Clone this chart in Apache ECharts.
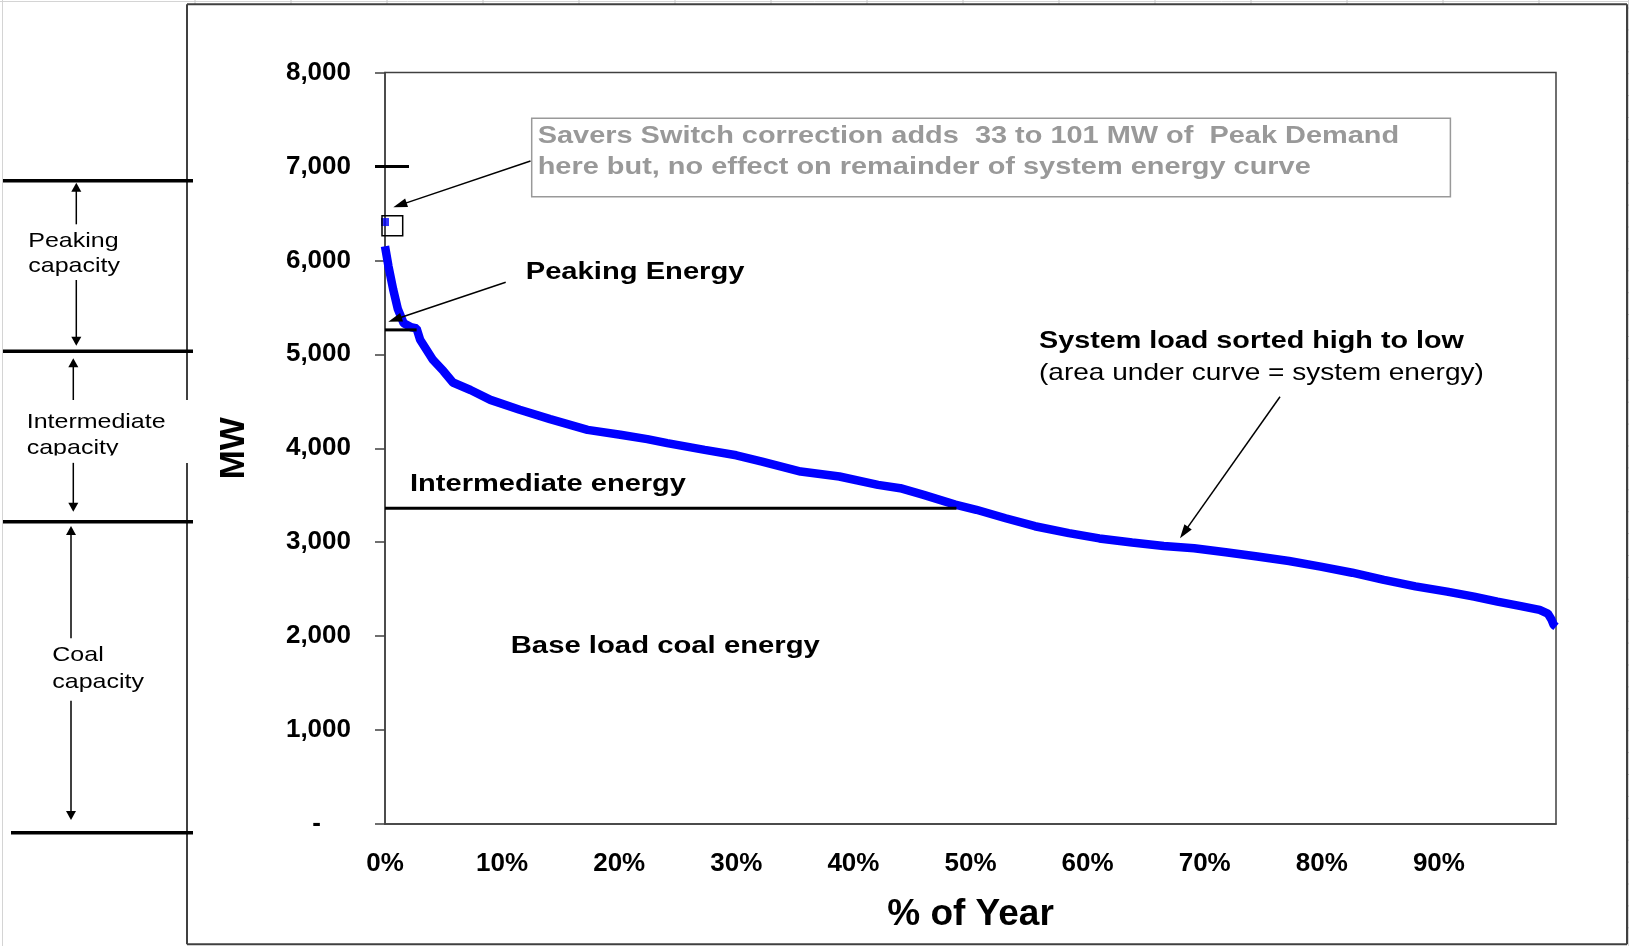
<!DOCTYPE html>
<html><head><meta charset="utf-8">
<script src="https://cdn.jsdelivr.net/npm/echarts@6/dist/echarts.min.js"></script>
<style>html,body{margin:0;padding:0;background:#fff}#c{width:1629px;height:946px}</style>
</head><body><div id="c"></div>
<script>
// ---- data ----
const pctOfYear = [0,0.3,0.7,1.1,1.6,2.2,2.7,3.0,4.1,5.0,5.8,7.3,9.0,11.5,14.1,17.3,20.1,22.4,24.1,27.3,30.0,32.2,35.5,38.8,42.1,44.0,46.0,48.7,50.5,53.0,55.5,58.4,61.0,63.8,66.5,69.1,71.8,74.5,77.2,79.9,82.6,85.3,88.0,90.7,93.0,95.0,97.0,98.6,99.3,99.6,99.8,100];
const loadMW = [6150,5935,5690,5480,5330,5290,5275,5155,4940,4820,4700,4620,4515,4410,4310,4196,4143,4097,4054,3983,3925,3858,3752,3699,3610,3575,3504,3400,3345,3255,3170,3096,3040,2996,2960,2936,2893,2847,2800,2740,2675,2598,2530,2474,2420,2368,2320,2279,2240,2180,2120,2100];
const correctedPeakPct = [0];
const correctedPeakMW = [6408];
const xTickLabels = ['0%','10%','20%','30%','40%','50%','60%','70%','80%','90%',''];
const peakTickMW = 7000;
const peakingLineMW = 5260;
const peakingLineEndPct = 2.7;
const intermediateLineMW = 3360;
const intermediateLineEndPct = 48.8;

const BOLD = 'bold 24px "Liberation Sans", Arial, sans-serif';
const REG = '24px "Liberation Sans", Arial, sans-serif';
const LEFT = '21px "Liberation Sans", Arial, sans-serif';

const chart = echarts.init(document.getElementById('c'), null, {renderer: 'canvas'});

chart.setOption({
  animation: false,
  backgroundColor: '#ffffff',
  grid: {left: 385, right: 73, top: 72.5, bottom: 122, show: true, borderColor: '#404040', borderWidth: 1.5, containLabel: false, outerBoundsMode: 'none'},
  xAxis: {
    type: 'value', min: 0, max: 100, interval: 10,
    name: '% of Year', nameLocation: 'middle', nameGap: 72,
    nameTextStyle: {fontFamily: '"Liberation Sans", Arial', fontWeight: 'bold', fontSize: 37, color: '#000'},
    axisLine: {show: true, lineStyle: {color: '#404040', width: 1.5}},
    axisTick: {show: false},
    splitLine: {show: false},
    axisLabel: {margin: 27, fontFamily: '"Liberation Sans", Arial', fontWeight: 'bold', fontSize: 26, color: '#000',
      formatter: v => xTickLabels[Math.round(v / 10)] || ''}
  },
  yAxis: {
    type: 'value', min: 0, max: 8000, interval: 1000,
    name: 'MW', nameLocation: 'middle', nameGap: 133, nameRotate: 90,
    nameTextStyle: {fontFamily: '"Liberation Sans", Arial', fontWeight: 'bold', fontSize: 35, color: '#000'},
    axisLine: {show: true, lineStyle: {color: '#404040', width: 1.5}},
    axisTick: {show: true, inside: false, length: 10, lineStyle: {color: '#404040', width: 1.5}},
    splitLine: {show: false},
    axisLabel: {margin: 34, fontFamily: '"Liberation Sans", Arial', fontWeight: 'bold', fontSize: 26, color: '#000',
      formatter: v => v === 0 ? '{z|-}' : v.toLocaleString('en-US'),
      rich: {z: {fontFamily: '"Liberation Sans", Arial', fontWeight: 'bold', fontSize: 26, color: '#000', padding: [0, 30, 0, 0]}}}
  },
  series: [
    {type: 'line', data: pctOfYear.map((p, i) => [p, loadMW[i]]), symbol: 'none', clip: false,
     lineStyle: {color: '#0000ff', width: 8.5}, z: 3},
    {type: 'scatter', data: correctedPeakPct.map((p, i) => [p, correctedPeakMW[i]]), symbol: 'rect', symbolSize: 8,
     itemStyle: {color: '#0000ff'}, z: 4}
  ]
});

function px(x, y) { return chart.convertToPixel({gridIndex: 0}, [x, y]); }
const g = [];
function line(x1, y1, x2, y2, w, c) { g.push({type: 'line', shape: {x1, y1, x2, y2}, style: {stroke: c || '#000', lineWidth: w}, z: 10}); }
function arrow(x1, y1, x2, y2, w, hl, hw) {
  const dx = x2 - x1, dy = y2 - y1, L = Math.hypot(dx, dy), ux = dx / L, uy = dy / L;
  const bx = x2 - ux * hl, by = y2 - uy * hl;
  line(x1, y1, bx + ux * 1, by + uy * 1, w);
  g.push({type: 'polygon', shape: {points: [[x2, y2], [bx - uy * hw / 2, by + ux * hw / 2], [bx + uy * hw / 2, by - ux * hw / 2]]}, style: {fill: '#000'}, z: 10});
}
function text(t, x, y, font, sx, color) {
  g.push({type: 'text', x: x, y: y + 1.5, scaleX: sx, z: 11, style: {text: t, x: 0, y: 0, font: font, fill: color || '#000', textAlign: 'left', textVerticalAlign: 'middle'}});
}

// spreadsheet background grid remnants
line(0, 1.5, 1629, 1.5, 1, '#d4d4d4');
line(2.5, 0, 2.5, 946, 1, '#d4d4d4');
line(1628.5, 0, 1628.5, 946, 1, '#d4d4d4');
for (let x = 195; x < 1629; x += 96) line(x, 0, x, 4.5, 1, '#c8c8c8');
for (let y = 8; y < 946; y += 21.9) line(1627, y, 1629, y, 1, '#b0b0b0');

// outer frame (with gap behind "Intermediate capacity")
line(187, 4.3, 1627, 4.3, 2, '#404040');
line(1627, 4.3, 1627, 944.3, 2, '#404040');
line(187, 944.3, 1627, 944.3, 2, '#404040');
line(187, 4.3, 187, 400, 2, '#404040');
line(187, 463, 187, 944.3, 2, '#404040');

// left capacity bands
line(3, 180.7, 193, 180.7, 3.5);
line(3, 351.3, 193, 351.3, 3.5);
line(3, 521.7, 193, 521.7, 3.5);
line(11, 832.7, 193, 832.7, 3.5);
arrow(76.3, 224.3, 76.3, 182.7, 1.5, 9, 10);
arrow(76.3, 280, 76.3, 345.7, 1.5, 9, 10);
arrow(73.3, 400, 73.3, 358.3, 1.5, 9, 10);
arrow(73.3, 462.7, 73.3, 511.7, 1.5, 9, 10);
arrow(71, 638.3, 71, 526, 1.5, 9, 10);
arrow(71, 700.7, 71, 820, 1.5, 9, 10);
text('Peaking', 28.3, 239.5, LEFT, 1.19);
text('capacity', 28.3, 264.5, LEFT, 1.19);
text('Intermediate', 26.7, 420.3, LEFT, 1.19);
text('capacity', 26.7, 447, LEFT, 1.19);
g.push({type: 'rect', shape: {x: 20, y: 455.5, width: 160, height: 7}, style: {fill: '#fff'}, z: 12});
text('Coal', 52.3, 653.7, LEFT, 1.19);
text('capacity', 52.3, 680.3, LEFT, 1.19);

// reference level marks (in data coordinates)
const a7 = px(0, peakTickMW);
line(a7[0] - 10, a7[1], a7[0] + 24, a7[1], 3);
const p1 = px(0, peakingLineMW), p2 = px(peakingLineEndPct, peakingLineMW);
line(p1[0], p1[1], p2[0], p2[1], 3);
const i1 = px(0, intermediateLineMW), i2 = px(intermediateLineEndPct, intermediateLineMW);
line(i1[0], i1[1], i2[0], i2[1], 3);

// box around corrected peak point
const cp = px(correctedPeakPct[0], correctedPeakMW[0]);
g.push({type: 'rect', shape: {x: cp[0] - 3, y: cp[1] - 6.3, width: 20.7, height: 20}, style: {fill: 'none', stroke: '#000', lineWidth: 1.5}, z: 10});

// annotation callout box
g.push({type: 'rect', shape: {x: 531.7, y: 118.3, width: 918.7, height: 78.4}, style: {fill: 'none', stroke: '#999', lineWidth: 1.5}, z: 9});
text('Savers Switch correction adds  33 to 101 MW of  Peak Demand', 537.7, 135, BOLD, 1.205, '#999');
text('here but, no effect on remainder of system energy curve', 537.7, 165.7, BOLD, 1.205, '#999');
arrow(530.5, 161, 393.3, 207.3, 1.5, 14, 9);

text('Peaking Energy', 525.7, 270.7, BOLD, 1.215);
arrow(505.7, 282.3, 388.3, 321.7, 1.5, 14, 9);

text('System load sorted high to low', 1039, 340, BOLD, 1.198);
text('(area under curve = system energy)', 1039, 371.7, REG, 1.168);
arrow(1280, 396.7, 1180, 538.3, 1.5, 14, 9);

text('Intermediate energy', 410, 483.3, BOLD, 1.21);
text('Base load coal energy', 510.7, 645, BOLD, 1.22);

chart.setOption({graphic: g});
</script>
</body></html>
